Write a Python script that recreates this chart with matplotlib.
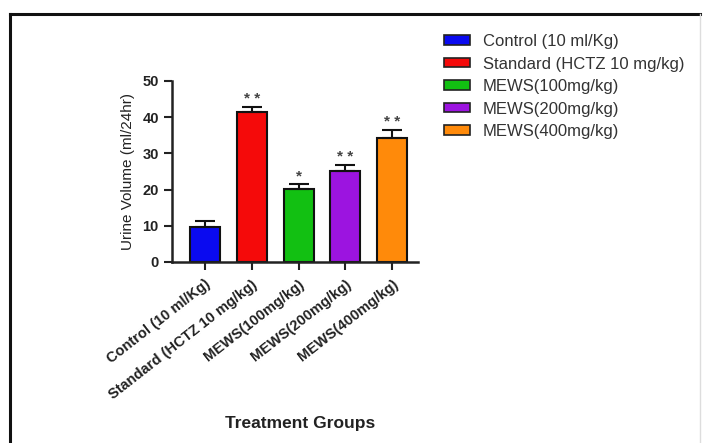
import numpy as np
import matplotlib
matplotlib.use('Agg')
import matplotlib.pyplot as plt
from matplotlib.patches import Patch
from matplotlib.lines import Line2D

plt.rcParams['font.family'] = ['Liberation Sans', 'DejaVu Sans']

groups = ['Control (10 ml/Kg)', 'Standard (HCTZ 10 mg/kg)', 'MEWS(100mg/kg)',
          'MEWS(200mg/kg)', 'MEWS(400mg/kg)']
volume = [9.8, 41.5, 20.3, 25.1, 34.3]
sem = [1.5, 1.4, 1.2, 1.6, 2.1]
stars = ['', '* *', '*', '* *', '* *']
colors = ['#0a0af0', '#f50a0a', '#12c012', '#9c14e0', '#ff8a0a']

fig = plt.figure(figsize=(7.03, 4.43), dpi=100)
ax = fig.add_axes([0.2447, 0.4086, 0.35, 0.4086])

x = np.arange(len(groups))
ax.bar(x, volume, width=0.64, color=colors, edgecolor='#111111', linewidth=1.5, zorder=2)
ax.errorbar(x, volume, yerr=[np.zeros(len(sem)), sem], fmt='none', ecolor='#111111',
            elinewidth=1.5, capsize=7, capthick=1.5, zorder=3)
for xi, v, e, s in zip(x, volume, sem, stars):
    if s:
        ax.text(xi, v + e + 0.3, s, ha='center', va='bottom', fontsize=11,
                fontweight='bold', color='#444444')

ax.set_xlim(-0.7, 4.55)
ax.set_ylim(0, 50)
ax.set_yticks([0, 10, 20, 30, 40, 50])
ax.set_xticks(x)
ax.set_xticklabels(groups, rotation=38, ha='right', rotation_mode='anchor',
                   fontsize=10.5, fontweight='bold', color='#222222')
for lab in ax.get_yticklabels():
    lab.set_fontweight('bold')
    lab.set_fontsize(10.5)
    lab.set_color('#222222')
ax.tick_params(axis='both', width=1.5, length=6, color='#222222')
ax.tick_params(axis='x', pad=5)
for side in ['top', 'right']:
    ax.spines[side].set_visible(False)
for side in ['left', 'bottom']:
    ax.spines[side].set_linewidth(1.8)
    ax.spines[side].set_color('#222222')
ax.set_ylabel('Urine Volume (ml/24hr)', fontsize=11, color='#222222', labelpad=5)
fig.text(0.427, 0.045, 'Treatment Groups', ha='center', va='center',
         fontsize=12.5, fontweight='bold', color='#222222')

handles = [Patch(facecolor=c, edgecolor='#222222', linewidth=1.2) for c in colors]
fig.legend(handles, groups, loc='upper left', bbox_to_anchor=(0.61, 0.957),
           frameon=False, fontsize=12, handlelength=1.6, handleheight=0.5,
           labelspacing=0.45, handletextpad=0.75, labelcolor='#333333')

# outer frame of the original figure
fig.add_artist(Line2D([0.014, 0.996], [0.968, 0.968], color='#111111', lw=2.2))
fig.add_artist(Line2D([0.014, 0.014], [0.0, 0.968], color='#111111', lw=2.2))
fig.add_artist(Line2D([0.996, 0.996], [0.0, 0.968], color='#dddddd', lw=1))

fig.savefig('out.png', dpi=100)
